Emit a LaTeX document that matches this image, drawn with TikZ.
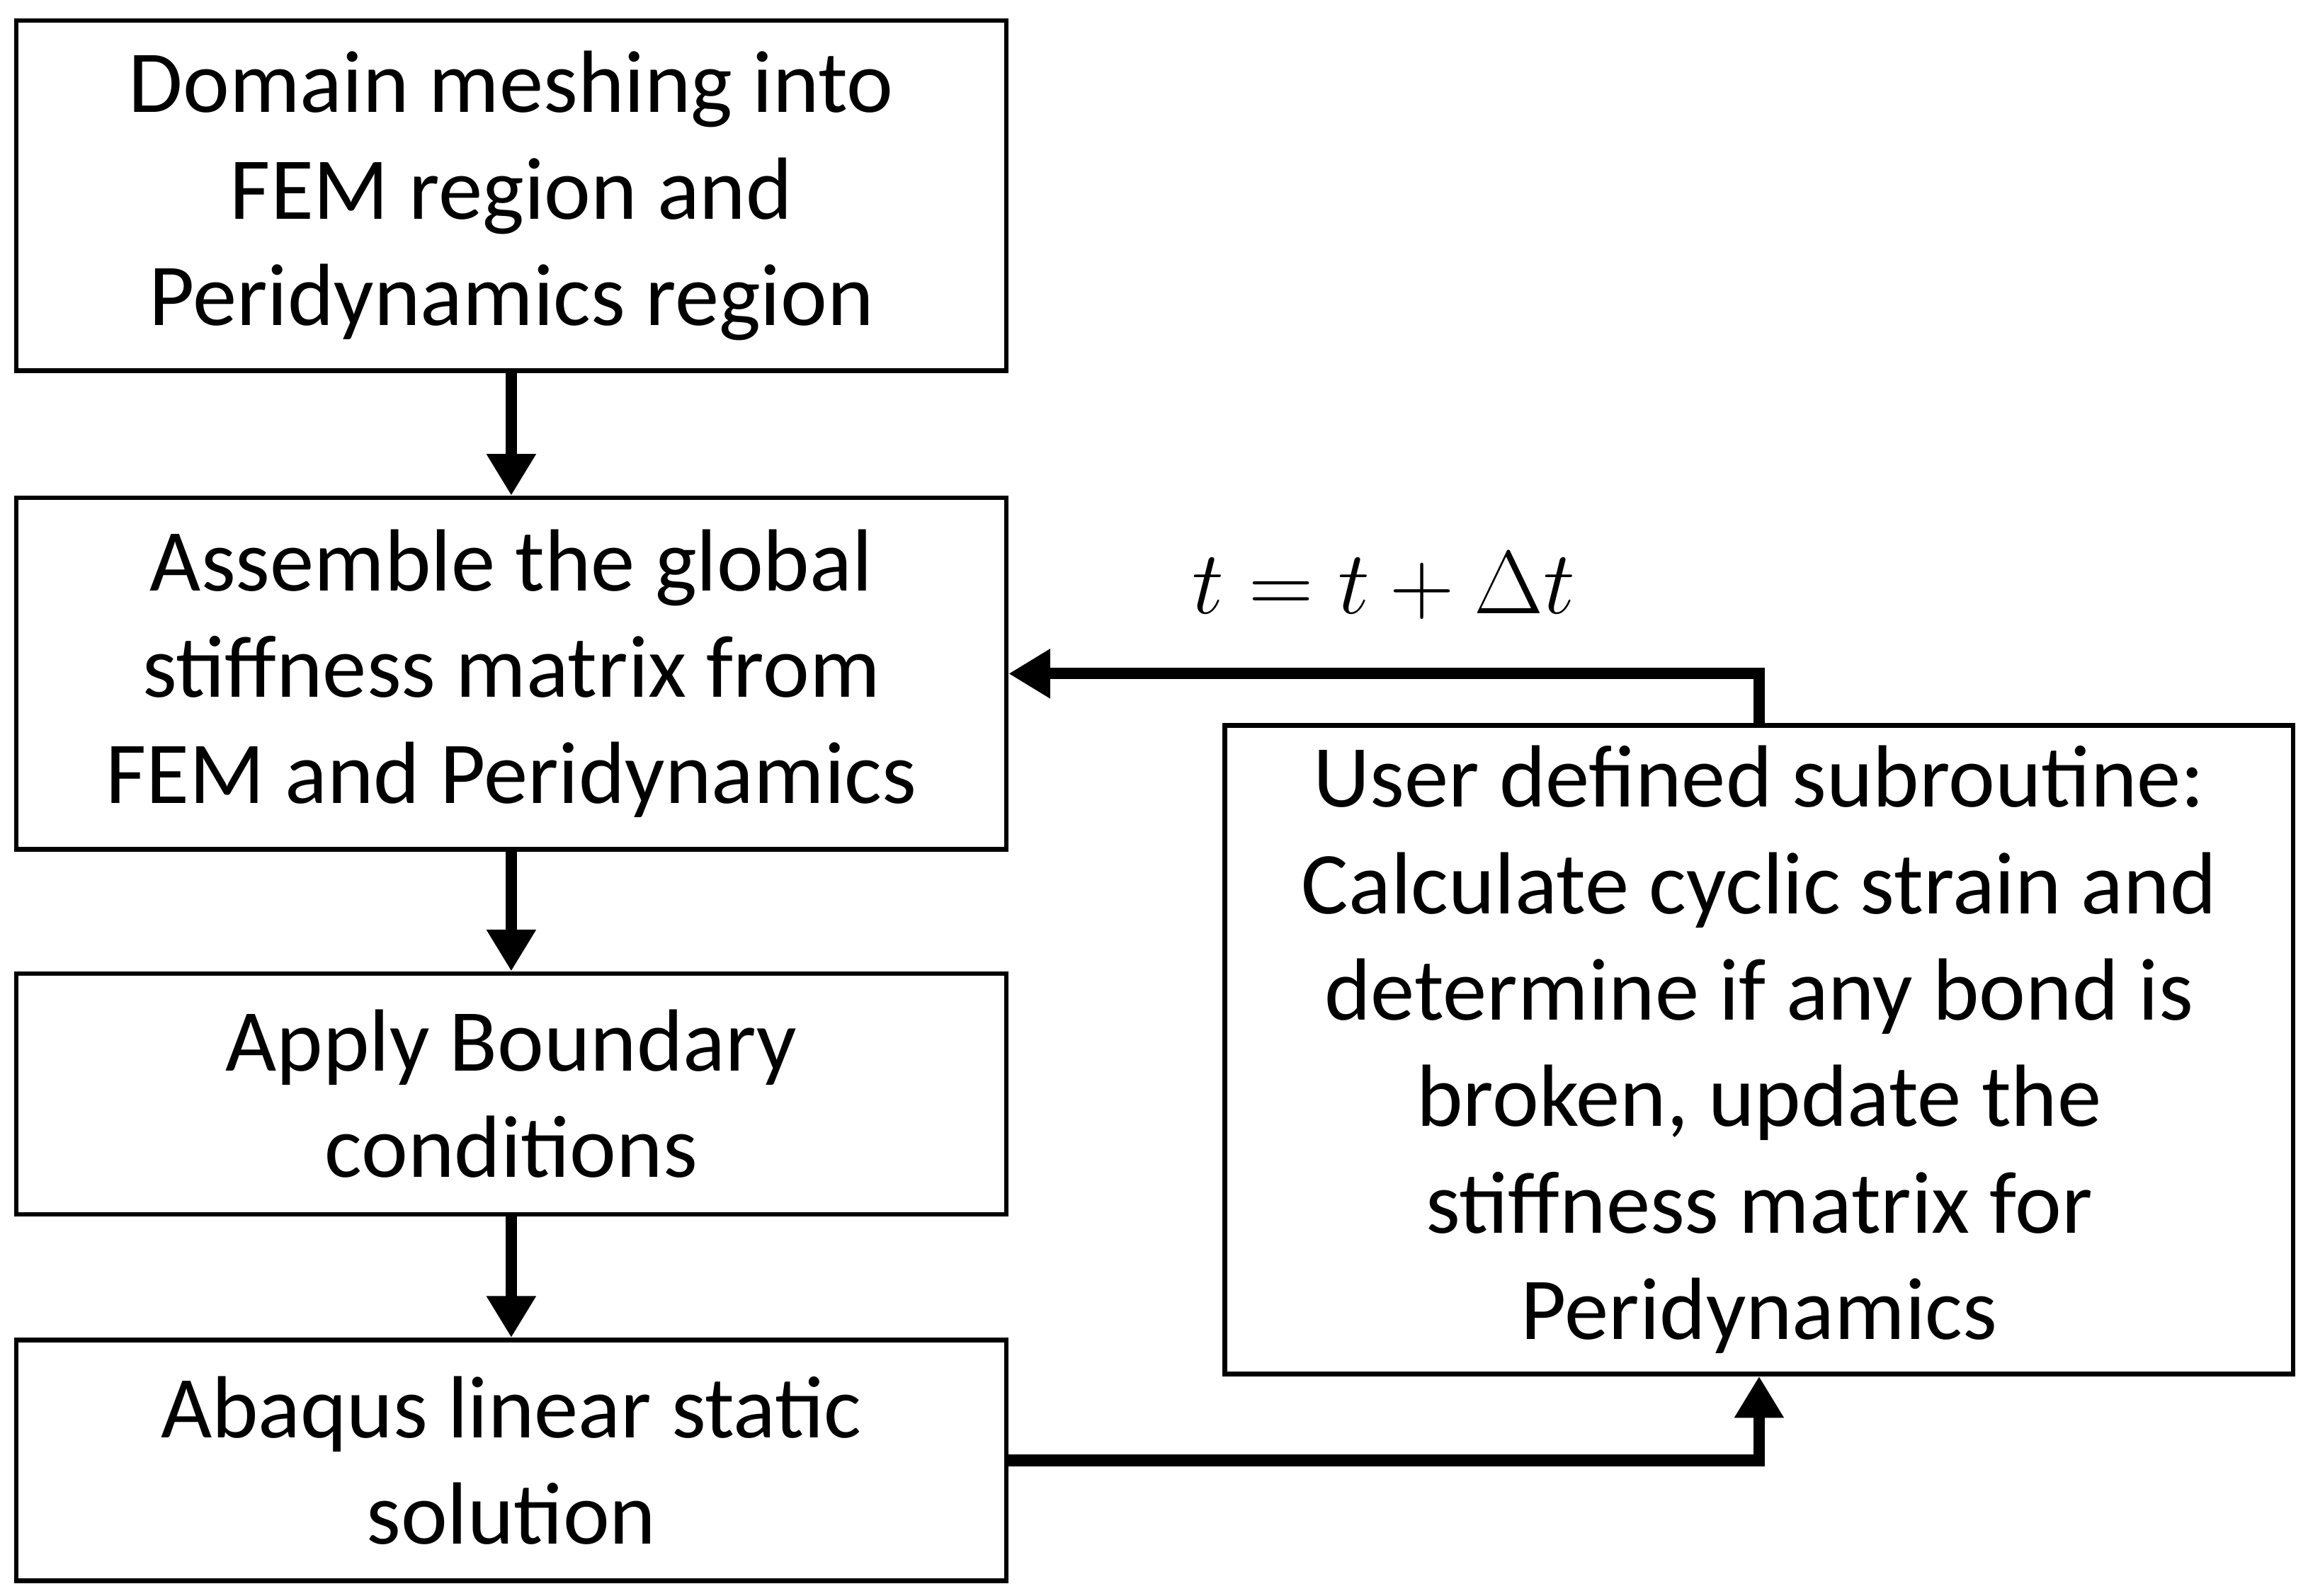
\documentclass[tikz,border=0pt]{standalone}
\usepackage{fontspec}
\setmainfont{Carlito}
\usepackage{amsmath}
\usetikzlibrary{arrows.meta,positioning,calc}

\begin{document}
\begin{tikzpicture}[x=1cm,y=1cm, every node/.style={font=\fontsize{17}{20.5}\selectfont}]
        \tikzset{
            stage/.style={draw, line width=0.9pt, minimum width=6.70cm, align=center, inner sep=0pt},
            flow/.style={-{Triangle[length=8pt,width=9pt]}, line width=2.2pt}
        }
        \useasboundingbox (0,0) rectangle (15.62,-10.80);

        % Left column of steps
        \node[stage, minimum height=2.37cm] (mesh) at (3.46,-1.325) {Domain meshing into\\FEM region and\\Peridynamics region};
        \node[stage, minimum height=2.38cm] (assemble) at (3.46,-4.56) {Assemble the global\\stiffness matrix from\\FEM and Peridynamics};
        \node[stage, minimum height=1.63cm] (bc) at (3.46,-7.405) {Apply Boundary\\conditions};
        \node[stage, minimum height=1.63cm] (solve) at (3.46,-9.885) {Abaqus linear static\\solution};

        % Subroutine box
        \node[stage, minimum width=7.23cm, minimum height=4.39cm] (sub) at (11.905,-7.105) {User defined subroutine:\\Calculate cyclic strain and\\determine if any bond is\\broken, update the\\stiffness matrix for\\Peridynamics};

        % Arrows
        \draw[flow] (mesh) -- (assemble);
        \draw[flow] (assemble) -- (bc);
        \draw[flow] (bc) -- (solve);
        \draw[flow] (solve.east) -| (sub.south);
        \draw[flow] (sub.north) |- (assemble.east) node[pos=0.75, above=6pt] {$t=t+\Delta t$};
\end{tikzpicture}
\end{document}
